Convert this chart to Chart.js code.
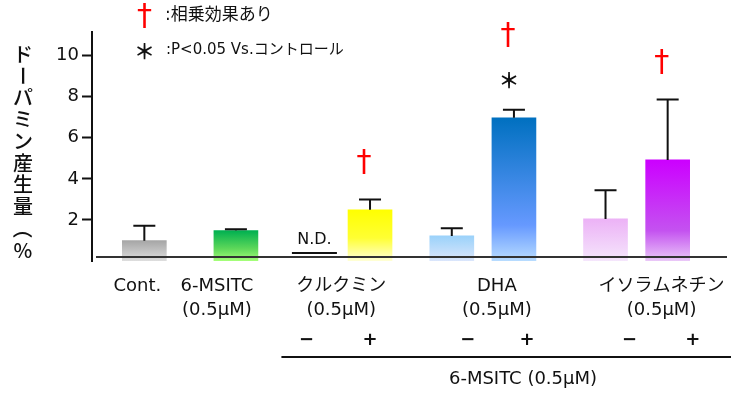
<!DOCTYPE html>
<html>
<head>
<meta charset="utf-8">
<script src="https://cdn.jsdelivr.net/npm/chart.js@4/dist/chart.umd.min.js"></script>
<style>
  html, body { margin: 0; padding: 0; background: #fff; }
  canvas { display: block; }
</style>
</head>
<body>
<canvas id="chart" width="742" height="394"></canvas>
<script>
// ---- data: dopamine production (%) ----
const treatments  = ['Cont.', '6-MSITC', 'クルクミン', 'クルクミン', 'DHA', 'DHA', 'イソラムネチン', 'イソラムネチン'];
const groupLabels = [['Cont.'], ['6-MSITC', '(0.5μM)'], ['クルクミン', '(0.5μM)'], ['DHA', '(0.5μM)'], ['イソラムネチン', '(0.5μM)']];
const groupOfBar  = [0, 1, 2, 2, 3, 3, 4, 4];
const msitcSign   = ['', '', '−', '+', '−', '+', '−', '+'];
const dopamine    = [0.99, 1.48, null, 2.49, 1.22, 6.97, 2.05, 4.92];
const errorSD     = [0.73, 0.07, null, 0.50, 0.38, 0.40, 1.40, 2.94];
const notDetected = [false, false, true, false, false, false, false, false];
const synergy     = [false, false, false, true, false, true, false, true];
const vsControl   = [false, false, false, false, false, true, false, false];
const yTicks      = [2, 4, 6, 8, 10];
const yMax        = 11.15;

// ---- styles ----
const barStops = [
  [[0, '#a6a6a6'], [1, '#dedede']],
  [[0, '#00b050'], [0.6, '#5fd85a'], [1, '#a6ff7a']],
  [[0, '#ffffff'], [1, '#ffffff']],
  [[0, '#ffff00'], [0.55, '#ffff33'], [1, '#ffffd6']],
  [[0, '#9bd2fa'], [1, '#dbe6fc']],
  [[0, '#0070c0'], [0.75, '#6699ff'], [1, '#b8dcff']],
  [[0, '#ecb2f6'], [1, '#f5e6fc']],
  [[0, '#cc00ff'], [0.7, '#c452f0'], [1, '#eac8f8']]
];
const LATIN = '"DejaVu Sans", "Noto Sans CJK JP", sans-serif';
const CJK = '"Noto Sans CJK JP", sans-serif';

// ---- layout: bars sit on a fine grid of evenly spaced category slots ----
const leadSlots = 16, trailSlots = 16;
const slotGaps = [28, 24, 17, 25, 19, 28, 19];
const barSlot = [leadSlots];
slotGaps.forEach(g => barSlot.push(barSlot[barSlot.length - 1] + g));
const slotCount = barSlot[barSlot.length - 1] + trailSlots + 1;
const slotLabels = new Array(slotCount).fill('');
const slotValues = new Array(slotCount).fill(null);
const slotToBar = new Array(slotCount).fill(null);
barSlot.forEach((s, i) => { slotLabels[s] = treatments[i]; slotValues[s] = dopamine[i]; slotToBar[s] = i; });

// horizontal nudges (px) of the text under the axis, relative to the bars
const groupNudge = [-7, -19, -1, 14, 25];
const signNudge = [0, 0, -8, 0, 16, 13, 24, 25];

function barFill(ctx) {
  const chart = ctx.chart;
  const i = slotToBar[ctx.dataIndex];
  if (i === null || dopamine[i] === null || !chart.chartArea) return '#cccccc';
  const y = chart.scales.y;
  const g = chart.ctx.createLinearGradient(0, y.getPixelForValue(dopamine[i]), 0, y.getPixelForValue(0));
  barStops[i].forEach(([o, c]) => g.addColorStop(o, c));
  return g;
}

const annotations = {
  id: 'annotations',
  afterDatasetsDraw(chart) {
    const { ctx, chartArea, scales: { y } } = chart;
    const meta = chart.getDatasetMeta(0);
    const base = y.getPixelForValue(0);
    ctx.save();

    // baseline
    ctx.strokeStyle = '#333333';
    ctx.lineWidth = 2;
    ctx.beginPath();
    ctx.moveTo(chartArea.left + 4, base - 4);
    ctx.lineTo(chartArea.right + 7, base - 4);
    ctx.stroke();

    barSlot.forEach((s, i) => {
      const x = meta.data[s].x;
      // error bars
      let markTop = null;
      if (dopamine[i] !== null && errorSD[i] !== null) {
        const yTop = y.getPixelForValue(dopamine[i]);
        const yErr = y.getPixelForValue(dopamine[i] + errorSD[i]);
        ctx.strokeStyle = '#111111';
        ctx.lineWidth = 2;
        ctx.beginPath();
        ctx.moveTo(x, yTop);
        ctx.lineTo(x, yErr);
        ctx.moveTo(x - 11, yErr);
        ctx.lineTo(x + 11, yErr);
        ctx.stroke();
        markTop = yErr;
      }
      // not detected
      if (notDetected[i]) {
        ctx.strokeStyle = '#111111';
        ctx.lineWidth = 2;
        ctx.beginPath();
        ctx.moveTo(x - 22.5, base - 8);
        ctx.lineTo(x + 22.5, base - 8);
        ctx.stroke();
        ctx.fillStyle = '#111111';
        ctx.font = '16px ' + LATIN;
        ctx.textAlign = 'center';
        ctx.textBaseline = 'middle';
        ctx.fillText('N.D.', x, base - 21);
      }
      // significance marks
      if (markTop !== null) {
        let yMark = markTop;
        ctx.textAlign = 'center';
        ctx.textBaseline = 'middle';
        if (vsControl[i]) {
          yMark -= 30;
          ctx.fillStyle = '#111111';
          ctx.font = 'bold 21px ' + CJK;
          ctx.fillText('＊', x - 5, yMark);
          yMark -= 7;
        }
        if (synergy[i]) {
          ctx.fillStyle = '#ff0000';
          ctx.font = '30px ' + LATIN;
          ctx.fillText('†', x - 6, yMark - 36);
        }
      }
    });
    ctx.restore();
  },
  afterDraw(chart) {
    const { ctx, chartArea } = chart;
    const meta = chart.getDatasetMeta(0);
    ctx.save();
    ctx.textAlign = 'center';
    ctx.textBaseline = 'middle';

    // treatment labels
    ctx.fillStyle = '#111111';
    ctx.font = '18px ' + LATIN;
    groupLabels.forEach((lines, gi) => {
      const xs = barSlot.filter((s, i) => groupOfBar[i] === gi).map(s => meta.data[s].x);
      const cx = xs.reduce((a, b) => a + b, 0) / xs.length + groupNudge[gi];
      lines.forEach((t, li) => ctx.fillText(t, cx, 286 + li * 24));
    });

    // with / without 6-MSITC
    ctx.font = 'bold 18px ' + LATIN;
    barSlot.forEach((s, i) => {
      if (msitcSign[i]) ctx.fillText(msitcSign[i], meta.data[s].x + signNudge[i], 340);
    });
    const signed = barSlot.filter((s, i) => msitcSign[i]).map(s => meta.data[s].x);
    ctx.strokeStyle = '#111111';
    ctx.lineWidth = 2;
    ctx.beginPath();
    ctx.moveTo(signed[0] - 33, 357);
    ctx.lineTo(chartArea.right + 11, 357);
    ctx.stroke();
    ctx.font = '18px ' + LATIN;
    ctx.fillText('6-MSITC (0.5μM)', 523, 379);

    // key
    ctx.textAlign = 'left';
    ctx.fillStyle = '#ff0000';
    ctx.font = '30px ' + LATIN;
    ctx.fillText('†', 137, 17);
    ctx.fillStyle = '#111111';
    ctx.font = 'bold 21px ' + CJK;
    ctx.fillText('＊', 134, 51);
    ctx.font = '17px ' + LATIN;
    ctx.fillText(':相乗効果あり', 165, 16);
    ctx.font = '15px ' + LATIN;
    ctx.fillText(':P<0.05 Vs.コントロール', 166, 50);

    // vertical axis title
    ctx.textAlign = 'center';
    ctx.font = '500 20px ' + CJK;
    const title = Array.from('ドーパミン産生量（%');
    title.forEach((ch, k) => {
      const cy = 54 + k * 21.8;
      ctx.save();
      ctx.translate(23, cy);
      if (ch === 'ー' || ch === '（' || ch === '）') ctx.rotate(Math.PI / 2);
      ctx.fillText(ch, 0, 0);
      ctx.restore();
    });
    ctx.restore();
  }
};

new Chart(document.getElementById('chart'), {
  type: 'bar',
  data: {
    labels: slotLabels,
    datasets: [{
      data: slotValues,
      backgroundColor: barFill,
      borderWidth: 0,
      barThickness: 44
    }]
  },
  options: {
    responsive: false,
    devicePixelRatio: 1,
    animation: false,
    events: [],
    layout: { padding: { left: 0, top: 32, right: 22, bottom: 133 } },
    plugins: { legend: { display: false }, tooltip: { enabled: false } },
    scales: {
      x: { type: 'category', display: false, offset: false, grid: { offset: false } },
      y: {
        min: 0,
        max: yMax,
        afterFit(scale) { scale.width = 92; },
        afterBuildTicks(scale) { scale.ticks = yTicks.map(v => ({ value: v })); },
        border: { display: true, color: '#111111', width: 2 },
        grid: { drawOnChartArea: false, drawTicks: true, tickLength: 10, tickWidth: 2, tickColor: '#111111' },
        ticks: { padding: 3, color: '#111111', font: { family: 'DejaVu Sans', size: 18 } }
      }
    }
  },
  plugins: [annotations]
});
</script>
</body>
</html>
